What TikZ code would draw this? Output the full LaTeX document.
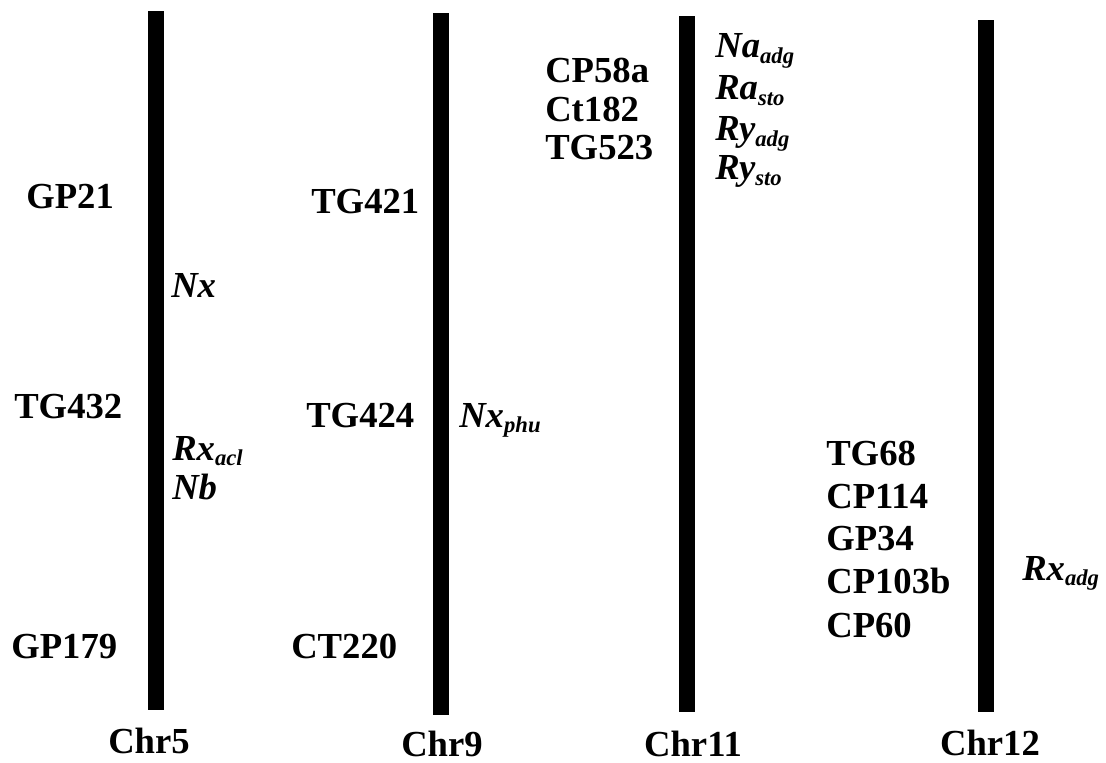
\documentclass[tikz,border=0pt]{standalone}
\usepackage{fontspec}
\setmainfont{Liberation Serif}
\newcommand{\sbx}[1]{\raisebox{-4pt}{\fontsize{17}{17}\selectfont\bfseries\itshape #1}}
\begin{document}
\begin{tikzpicture}[x=0.75pt,y=-0.75pt,
  bar/.style={fill=black},
  mk/.style={anchor=base west,inner sep=0pt,font=\fontsize{27.5}{32}\selectfont\bfseries},
  gn/.style={anchor=base west,inner sep=0pt,font=\fontsize{27.5}{32}\selectfont\bfseries\itshape},
  chr/.style={anchor=base,inner sep=0pt,text depth=0pt,font=\fontsize{27.5}{32}\selectfont\bfseries}]
\useasboundingbox (0,0) rectangle (1106,763);
% chromosome bars
\path[bar] (148,11) rectangle (164,710);
\path[bar] (433,13) rectangle (449,715);
\path[bar] (679,16) rectangle (695,712);
\path[bar] (978,20) rectangle (994,712);
% Chr5
\node[mk] (gp21) at (26,208) {GP21};
\node[mk] (tg432) at (14,418) {TG432};
\node[mk] (gp179) at (11,658) {GP179};
\node[gn] (nx) at (171,297) {Nx};
\node[gn] (rxacl) at (172,460) {Rx\sbx{acl}};
\node[gn] (nb) at (172,499) {Nb};
\node[chr] (chr5) at (149,753) {Chr5};
% Chr9
\node[mk] (tg421) at (311,213) {TG421};
\node[mk] (tg424) at (306,427) {TG424};
\node[mk] (ct220) at (291,658) {CT220};
\node[gn] (nxphu) at (459,427) {Nx\sbx{phu}};
\node[chr] (chr9) at (442,756) {Chr9};
% Chr11
\node[mk] (cp58a) at (545,83) {CP58a};
\node[mk] (ct182) at (545,122) {Ct182};
\node[mk] (tg523) at (545,160) {TG523};
\node[gn] (naadg) at (715,58) {Na\sbx{adg}};
\node[gn] (rasto) at (715,100) {Ra\sbx{sto}};
\node[gn] (ryadg) at (715,141) {Ry\sbx{adg}};
\node[gn] (rysto) at (715,180) {Ry\sbx{sto}};
\node[chr] (chr11) at (693,756) {Chr11};
% Chr12
\node[mk] (tg68) at (826,465) {TG68};
\node[mk] (cp114) at (826,508) {CP114};
\node[mk] (gp34) at (826,550) {GP34};
\node[mk] (cp103b) at (826,593) {CP103b};
\node[mk] (cp60) at (826,637) {CP60};
\node[gn] (rxadg) at (1022,580) {Rx\sbx{adg}};
\node[chr] (chr12) at (990,755) {Chr12};
\end{tikzpicture}
\end{document}
